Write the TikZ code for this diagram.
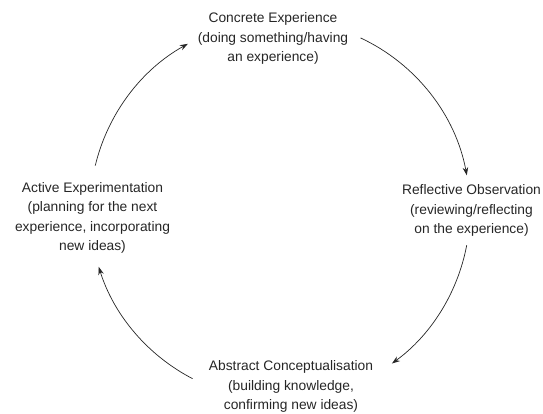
\documentclass[tikz,border=0pt]{standalone}
\usepackage{fontspec}
\setmainfont{Liberation Sans}
\usetikzlibrary{arrows.meta}
\definecolor{ink}{HTML}{262626}
\begin{document}
\begin{tikzpicture}[x=1pt,y=1pt,
  stage/.style={align=center, inner sep=0pt, anchor=base, text=ink,
    font=\fontsize{13.8}{19.5}\selectfont},
  cyc/.style={draw=ink, line width=0.7pt, -{Stealth[length=8pt,width=5.5pt]}}]
\useasboundingbox (0,0) rectangle (543,414);

% the four stages of the cycle (anchored on the baseline of the last line)
\node[stage] (ce) at (273,352) {Concrete Experience\\(doing something/having\\an experience)};
\node[stage] (ro) at (471.5,180) {Reflective Observation\\(reviewing/reflecting\\on the experience)};
\node[stage] (ac) at (291,4) {Abstract Conceptualisation\\(building knowledge,\\confirming new ideas)};
\node[stage] (ae) at (92.5,163) {Active Experimentation\\(planning for the next\\experience, incorporating\\new ideas)};

% arcs of one circle carry the cycle clockwise
\coordinate (c) at (280,204);
\path (c) ++(166.5:190) coordinate (ae-out);
\path (c) ++(64.9:190) coordinate (ce-out);
\path (c) ++(-10.7:190) coordinate (ro-out);
\path (c) ++(-117.4:190) coordinate (ac-out);

\draw[cyc] (ae-out) arc[start angle=166.5, end angle=119, radius=190];
\draw[cyc] (ce-out) arc[start angle=64.9, end angle=10.5, radius=190];
\draw[cyc] (ro-out) arc[start angle=-10.7, end angle=-53.9, radius=190];
\draw[cyc] (ac-out) arc[start angle=-117.4, end angle=-162.6, radius=190];
\end{tikzpicture}
\end{document}
